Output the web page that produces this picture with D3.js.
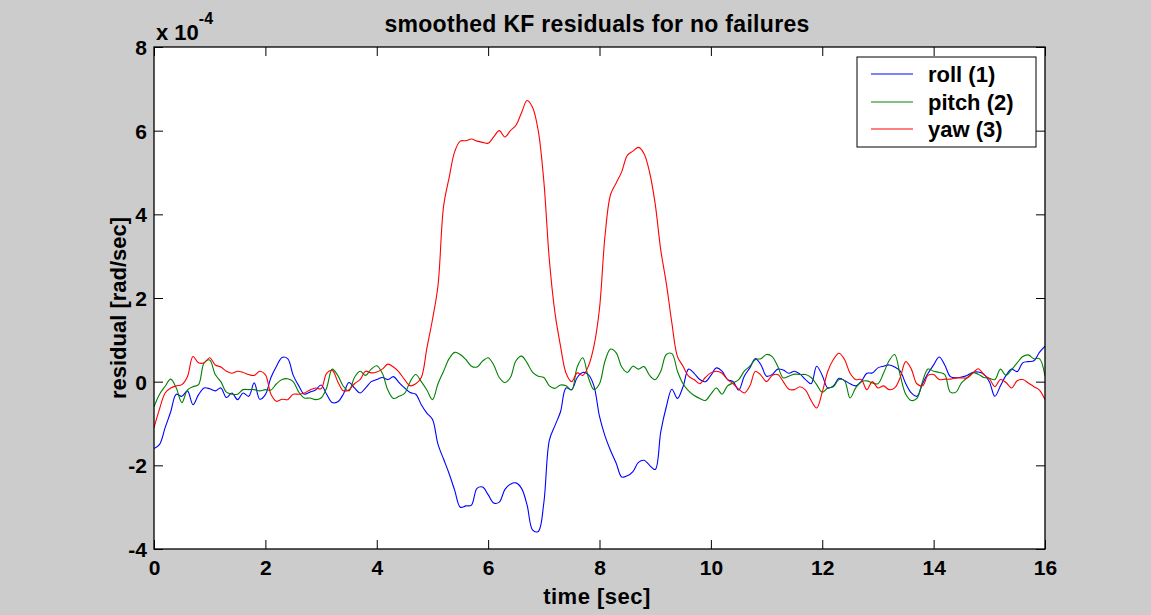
<!DOCTYPE html>
<html><head><meta charset="utf-8">
<script src="https://cdn.jsdelivr.net/npm/d3@7/dist/d3.min.js"></script>
<style>
html,body{margin:0;padding:0;background:#cccccc;}
text{font-family:"Liberation Sans",Arial,Helvetica,sans-serif;font-weight:bold;fill:#000;}
</style></head>
<body>
<svg id="chart" width="1151" height="615"></svg>
<script>
// time axis: 0..16 s, step 0.1
const times = d3.range(0, 161).map(i => +(i * 0.1).toFixed(1));
const xTicks = [0, 2, 4, 6, 8, 10, 12, 14, 16];
const yTicks = [-4, -2, 0, 2, 4, 6, 8];
const seriesNames = ["roll (1)", "pitch (2)", "yaw (3)"];
const seriesColors = ["#0000ff", "#008000", "#ff0000"];
// values in units of 1e-4 rad/sec
const roll = [
-1.6,-1.5,-1.1,-0.72,-0.3,-0.35,-0.22,-0.55,-0.31,-0.15,
-0.17,-0.22,-0.15,-0.38,-0.27,-0.43,-0.27,-0.35,-0.03,-0.42,
-0.31,0.1,0.37,0.58,0.55,0.15,-0.1,-0.3,-0.25,-0.2,
-0.08,-0.3,-0.5,-0.48,-0.3,-0.02,-0.15,-0.27,-0.15,0.0,
0.05,0.1,0.05,0.12,-0.02,-0.15,-0.26,-0.3,-0.55,-0.75,
-0.9,-1.5,-1.85,-2.2,-2.6,-3.0,-2.97,-2.95,-2.55,-2.52,
-2.7,-2.9,-2.88,-2.58,-2.45,-2.42,-2.55,-2.95,-3.55,-3.58,
-2.9,-1.4,-1.05,-0.72,-0.15,-0.19,0.1,0.22,0.17,-0.1,
-0.83,-1.3,-1.65,-1.95,-2.28,-2.25,-2.15,-1.93,-1.88,-2.0,
-2.1,-1.2,-0.6,-0.18,-0.4,-0.12,0.3,0.2,0.05,0.0,
0.15,0.33,0.25,0.05,0.0,-0.2,0.13,0.33,0.55,0.4,
0.13,0.17,0.3,0.28,0.2,0.25,0.18,0.05,-0.05,0.37,
0.15,-0.15,-0.1,0.08,0.03,-0.05,-0.1,0.0,0.2,0.21,
0.33,0.37,0.4,0.35,0.25,-0.05,-0.27,-0.35,-0.05,0.2,
0.4,0.59,0.4,0.12,0.09,0.11,0.15,0.22,0.23,0.18,
0.0,-0.35,-0.1,0.15,0.3,0.24,0.45,0.48,0.5,0.7,
0.85];
const pitch = [
-0.6,-0.3,-0.11,0.06,-0.15,-0.5,-0.2,-0.12,-0.07,0.45,
0.52,0.17,0.0,-0.25,-0.3,-0.3,-0.19,-0.19,-0.19,-0.22,
-0.19,-0.2,-0.05,0.05,0.07,0.0,-0.25,-0.39,-0.39,-0.43,
-0.39,-0.15,0.3,0.15,-0.11,-0.22,0.1,0.25,0.15,0.3,
0.38,0.2,-0.2,-0.4,-0.35,-0.28,0.0,0.17,0.0,-0.2,
-0.43,-0.05,0.25,0.55,0.7,0.65,0.53,0.37,0.35,0.49,
0.57,0.4,0.1,-0.02,0.1,0.5,0.61,0.45,0.22,0.13,
0.1,-0.1,-0.16,-0.08,-0.1,-0.2,0.35,0.57,0.1,-0.19,
-0.05,0.5,0.78,0.69,0.35,0.22,0.37,0.3,0.36,0.15,
0.05,0.25,0.65,0.67,0.25,-0.05,-0.22,-0.33,-0.4,-0.45,
-0.3,-0.15,-0.3,-0.1,-0.03,0.05,0.25,0.37,0.53,0.55,
0.65,0.6,0.37,0.09,0.13,0.18,0.17,0.17,0.1,-0.07,
-0.25,-0.15,-0.12,0.05,0.02,-0.39,-0.15,0.0,0.02,-0.03,
-0.05,0.2,0.5,0.65,0.15,-0.3,-0.45,-0.4,0.0,0.3,
0.25,0.22,0.17,-0.25,-0.25,-0.03,0.09,0.21,0.18,0.1,
0.08,0.05,0.3,0.15,0.29,0.45,0.6,0.64,0.55,0.55,
0.13];
const yaw = [
-1.1,-0.65,-0.27,-0.15,-0.1,-0.07,0.12,0.6,0.45,0.45,
0.57,0.4,0.35,0.25,0.2,0.25,0.22,0.17,0.15,0.25,
0.17,-0.3,-0.47,-0.42,-0.43,-0.3,-0.3,-0.27,-0.2,-0.15,
-0.17,0.2,0.27,0.0,-0.22,-0.2,-0.05,0.05,0.25,0.21,
0.23,0.3,0.42,0.35,0.23,0.05,-0.1,-0.05,0.1,0.8,
1.48,2.3,4.19,4.88,5.5,5.75,5.76,5.8,5.75,5.72,
5.7,5.85,6.0,5.85,6.0,6.13,6.43,6.72,6.55,6.0,
4.8,2.9,1.65,0.85,0.2,0.0,0.21,0.15,0.37,0.85,
1.75,3.5,4.48,4.75,5.02,5.41,5.51,5.6,5.45,5.0,
4.25,3.15,2.35,1.4,0.6,0.37,0.13,0.05,-0.05,0.1,
0.21,0.25,0.2,0.05,-0.05,-0.18,-0.27,-0.1,0.25,0.15,
0.0,0.15,0.17,0.0,-0.18,-0.19,-0.12,-0.2,-0.45,-0.63,
-0.25,0.25,0.53,0.68,0.53,0.2,0.05,0.05,-0.19,0.0,
-0.15,-0.1,-0.19,-0.15,0.1,0.48,0.3,-0.05,-0.1,0.15,
0.17,0.05,0.06,0.06,0.09,0.09,0.09,0.2,0.31,0.17,
0.07,-0.12,0.05,-0.02,-0.15,0.02,0.05,-0.03,-0.12,-0.2,
-0.43];
const seriesValues = [roll, pitch, yaw];

const svg = d3.select("#chart");
const L = 154, T = 47, R = 1045, B = 549;
svg.append("rect").attr("x",0).attr("y",0).attr("width",1151).attr("height",615).attr("fill","#cccccc");
svg.append("rect").attr("x",L).attr("y",T).attr("width",R-L).attr("height",B-T).attr("fill","#fff");

const x = d3.scaleLinear().domain([0,16]).range([L,R]);
const y = d3.scaleLinear().domain([-4,8]).range([B,T]);

svg.append("clipPath").attr("id","clip").append("rect")
  .attr("x",L).attr("y",T).attr("width",R-L).attr("height",B-T);

const line = d3.line().x((d,i)=>x(times[i])).y(d=>y(d)).curve(d3.curveCatmullRom.alpha(0.5));
const g = svg.append("g").attr("clip-path","url(#clip)");
seriesValues.forEach((vals,k)=>{
  g.append("path").datum(vals).attr("d",line).attr("fill","none")
   .attr("stroke",seriesColors[k]).attr("stroke-width",1.1);
});

// axes
const tl = 9;
const fmt = d => String(d);
const axB = d3.axisBottom(x).tickValues(xTicks).tickSize(-tl).tickFormat(fmt);
const axT = d3.axisTop(x).tickValues(xTicks).tickSize(-tl).tickFormat("");
const axL = d3.axisLeft(y).tickValues(yTicks).tickSize(-tl).tickFormat(fmt);
const axR = d3.axisRight(y).tickValues(yTicks).tickSize(-tl).tickFormat("");
function style(sel){
  sel.selectAll(".domain").remove();
  sel.selectAll(".tick line").attr("stroke","#000").attr("stroke-width",1);
  sel.selectAll(".tick text").style("font-size","21px").style("font-family","Liberation Sans, Arial, sans-serif").style("font-weight","bold").attr("fill","#000");
}
svg.append("g").attr("transform",`translate(0,${B})`).call(axB).call(style)
  .selectAll(".tick text").attr("dy","0.71em").attr("y",11);
svg.append("g").attr("transform",`translate(0,${T})`).call(axT).call(style);
svg.append("g").attr("transform",`translate(${L},0)`).call(axL).call(style)
  .selectAll(".tick text").attr("x",-7).attr("dy","0.35em");
svg.append("g").attr("transform",`translate(${R},0)`).call(axR).call(style);
svg.append("rect").attr("x",L).attr("y",T).attr("width",R-L).attr("height",B-T)
  .attr("fill","none").attr("stroke","#000").attr("stroke-width",1.3);

// texts
svg.append("text").attr("x",597).attr("y",32).attr("text-anchor","middle").style("font-size","23px")
  .style("letter-spacing","0.3px").text("smoothed KF residuals for no failures");
const ex = svg.append("text").attr("x",156).attr("y",40).style("font-size","22px");
ex.append("tspan").text("x 10");
ex.append("tspan").attr("dy",-16).style("font-size","16px").text("-4");
svg.append("text").attr("x",597).attr("y",604).attr("text-anchor","middle").style("font-size","22px")
  .style("letter-spacing","0.5px").text("time [sec]");
svg.append("text").attr("transform",`translate(126,${(T+B)/2+10}) rotate(-90)`).attr("text-anchor","middle")
  .style("font-size","22px").text("residual [rad/sec]");

// legend
const lg = svg.append("g");
lg.append("rect").attr("x",857).attr("y",57).attr("width",179).attr("height",90).attr("fill","#fff").attr("stroke","#000").attr("stroke-width",1);
const ly = [74,102,129];
seriesNames.forEach((n,k)=>{
  lg.append("line").attr("x1",871).attr("x2",913).attr("y1",ly[k]).attr("y2",ly[k]).attr("stroke",seriesColors[k]).attr("stroke-width",1);
  lg.append("text").attr("x",928).attr("y",ly[k]+8).style("font-size","22px").text(n);
});
</script>
</body></html>
